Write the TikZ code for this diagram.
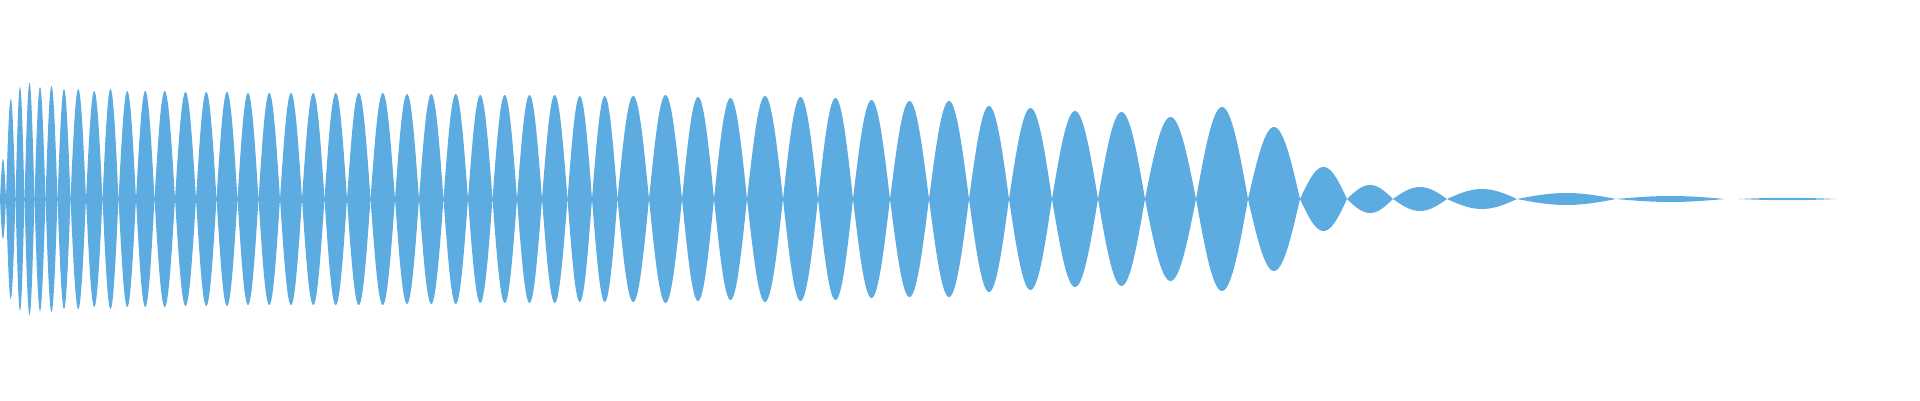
\documentclass[tikz,border=0pt]{standalone}
\definecolor{wave}{HTML}{5DACE1}
\begin{document}
\begin{tikzpicture}[x=1pt,y=1pt,lobe/.style={fill=wave,draw=none}]
\useasboundingbox (0,0) rectangle (1920,400);
\fill[wave] (0,199) rectangle (640,203);
\foreach \a/\b/\h in {0/6/40,6/15.5/100,15.5/24.5/112,24.5/34.5/116,34.5/45.5/112,45.5/57.5/113,57.5/70.5/110,70.5/86/110,86/102.5/108,102.5/118.5/110,118.5/136/108,136/154.5/108,154.5/175/108,175/196/107,196/216.5/107,216.5/237.5/107,237.5/258.5/106,258.5/280/106,280/302/106,302/324.5/106,324.5/347/106,347/370.5/106,370.5/395/106,395/419/105,419/443.5/105,443.5/468/105,468/492.5/104,492.5/517/104,517/542/104,542/567.5/104,567.5/592/103,592/617.5/103,617.5/649/103,649/682/104,682/714/102,714/747/101,747/783/103,783/818/102,818/853/101,853/890/99,890/929/98,929/969/98,969/1009/93,1009/1052/91,1052/1098/88,1098/1145/87,1145/1196/82,1196/1248/92,1248/1300/72,1300/1347/32,1347/1393/14,1393/1447/12,1447/1517/10,1517/1616/6,1616/1725/3,1738/1837/1.2}
{
  \fill[lobe] plot[domain=0:1,samples=40,smooth] ({\a+(\b-\a)*\x},{201+\h*sin(180*\x)})
     -- plot[domain=1:0,samples=40,smooth] ({\a+(\b-\a)*\x},{201-\h*sin(180*\x)}) -- cycle;
}
\end{tikzpicture}
\end{document}
